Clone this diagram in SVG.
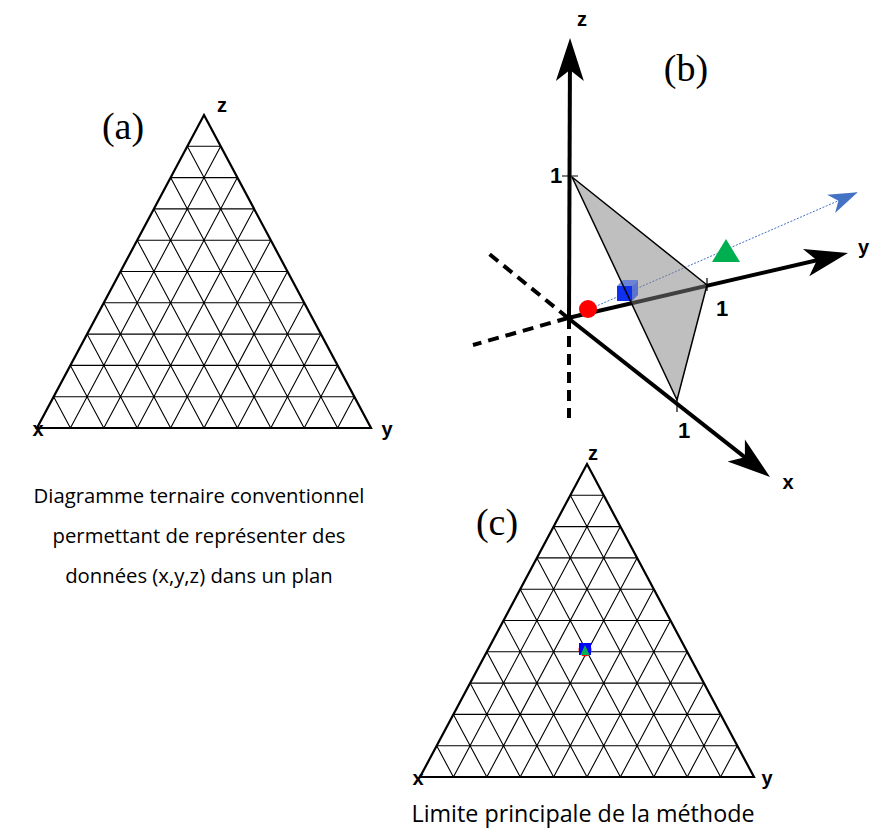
<svg xmlns="http://www.w3.org/2000/svg" xmlns:xlink="http://www.w3.org/1999/xlink" width="870" height="829" viewBox="0 0 870 829">
<style>
.grid{fill:none;stroke:#000;stroke-width:1.1}
.outline{fill:none;stroke:#000;stroke-width:2.2;stroke-linejoin:miter}
.lbl{font-family:"Liberation Sans",Arial,sans-serif;font-weight:bold;font-size:20px;fill:#000;text-anchor:middle}
.title{font-family:"Liberation Serif","Times New Roman",serif;font-size:38px;fill:#000;text-anchor:middle}
.cap{font-family:"Open Sans","Liberation Sans",sans-serif;font-size:20.3px;fill:#000;text-anchor:middle}
.axis{fill:none;stroke:#000;stroke-width:4}
.dash{fill:none;stroke:#000;stroke-width:4;stroke-dasharray:11 7}
.tick{fill:none;stroke:#000;stroke-width:1.2}
</style>
<defs>
<marker id="ah" markerUnits="userSpaceOnUse" orient="auto" viewBox="-40 -20 60 40" markerWidth="60" markerHeight="40" refX="0" refY="0">
<path d="M12,0 L-31,-14 L-20,0 L-31,14 Z" fill="#000"/>
</marker>
<marker id="ahBlue" markerUnits="userSpaceOnUse" orient="auto" viewBox="-35 -15 40 30" markerWidth="40" markerHeight="30" refX="0" refY="0">
<path d="M0,0 L-29,-10 L-21,0 L-29,10 Z" fill="#4472C4"/>
</marker>
<g id="ternary">
<path class="grid" d="M-16.7,31.3H16.7M-33.4,62.6H33.4M-50.1,93.9H50.1M-66.8,125.2H66.8M-83.5,156.5H83.5M-100.2,187.8H100.2M-116.9,219.1H116.9M-133.6,250.4H133.6M-150.3,281.7H150.3
M-133.6,313L16.7,31.3M-100.2,313L33.4,62.6M-66.8,313L50.1,93.9M-33.4,313L66.8,125.2M0,313L83.5,156.5M33.4,313L100.2,187.8M66.8,313L116.9,219.1M100.2,313L133.6,250.4M133.6,313L150.3,281.7
M133.6,313L-16.7,31.3M100.2,313L-33.4,62.6M66.8,313L-50.1,93.9M33.4,313L-66.8,125.2M0,313L-83.5,156.5M-33.4,313L-100.2,187.8M-66.8,313L-116.9,219.1M-100.2,313L-133.6,250.4M-133.6,313L-150.3,281.7"/>
<path class="outline" d="M0,0L167,313H-167Z"/>
</g>
</defs>

<g id="panel-a">
<use xlink:href="#ternary" href="#ternary" transform="translate(204,115)"/>
<text class="title" x="123" y="139">(a)</text>
<text class="lbl" x="222" y="112">z</text>
<text class="lbl" x="38" y="436">x</text>
<text class="lbl" x="387" y="436">y</text>
</g>

<g id="caption-a">
<text class="cap" x="199" y="503">Diagramme ternaire conventionnel</text>
<text class="cap" x="199" y="543">permettant de représenter des</text>
<text class="cap" x="199" y="583">données (x,y,z) dans un plan</text>
</g>

<g id="panel-b">
<g id="connectors">
<path d="M569,318L857.7,192.3" fill="none" stroke="#4472C4" stroke-width="1" stroke-dasharray="2 1.5" marker-end="url(#ahBlue)"/>
<path class="dash" d="M569,318V418"/>
<path class="dash" d="M568,318L488,253"/>
<path class="dash" d="M568,318L473,345"/>
<path class="axis" d="M569,318L570,50" marker-end="url(#ah)"/>
<path class="axis" d="M568,318L836.3,255.7" marker-end="url(#ah)"/>
<path class="axis" d="M568,318L760.6,469.6" marker-end="url(#ah)"/>
</g>
<g id="plane">
<path d="M572,177L707,285L677,400Z" fill="#808080" fill-opacity="0.5"/>
</g>
<g id="cube">
<path d="M617,286L623,280H638L632,286Z" fill="#5a78d8" fill-opacity="0.85"/>
<path d="M632,286L638,280V295L632,301Z" fill="#4a66cc" fill-opacity="0.85"/>
<rect x="617" y="286" width="15" height="15" fill="#1030f0"/>
</g>
<path d="M572,177L707,285L677,400Z" fill="none" stroke="#000" stroke-width="1.5" stroke-linejoin="round"/>
<circle id="red-point" cx="588" cy="309" r="9" fill="#FF0000"/>
<path id="green-point" d="M726,239L740,262H712Z" fill="#00B050"/>
<path class="tick" d="M562,176H578M707,278V291M677,397V412"/>
<text class="lbl" x="556" y="183" style="font-size:22px">1</text>
<text class="lbl" x="722" y="316" style="font-size:22px">1</text>
<text class="lbl" x="684" y="438" style="font-size:22px">1</text>
<text class="lbl" x="582" y="26">z</text>
<text class="lbl" x="788" y="489">x</text>
<text class="lbl" x="869" y="254" style="text-anchor:end">y</text>
<text class="title" x="686" y="81">(b)</text>
</g>

<g id="panel-c">
<use xlink:href="#ternary" href="#ternary" transform="translate(587,464)"/>
<text class="title" x="497" y="535">(c)</text>
<text class="lbl" x="593" y="460">z</text>
<text class="lbl" x="418" y="785">x</text>
<text class="lbl" x="767" y="785">y</text>
<g id="projected-points">
<circle cx="585" cy="650" r="6.5" fill="#FF0000"/>
<rect x="579" y="643" width="12" height="12" fill="#0000FF"/>
<path d="M585,645L589.5,655H580.5Z" fill="#00B050"/>
</g>
</g>

<g id="caption-c">
<text class="cap" x="583" y="822" style="font-size:23.3px">Limite principale de la méthode</text>
</g>
</svg>
